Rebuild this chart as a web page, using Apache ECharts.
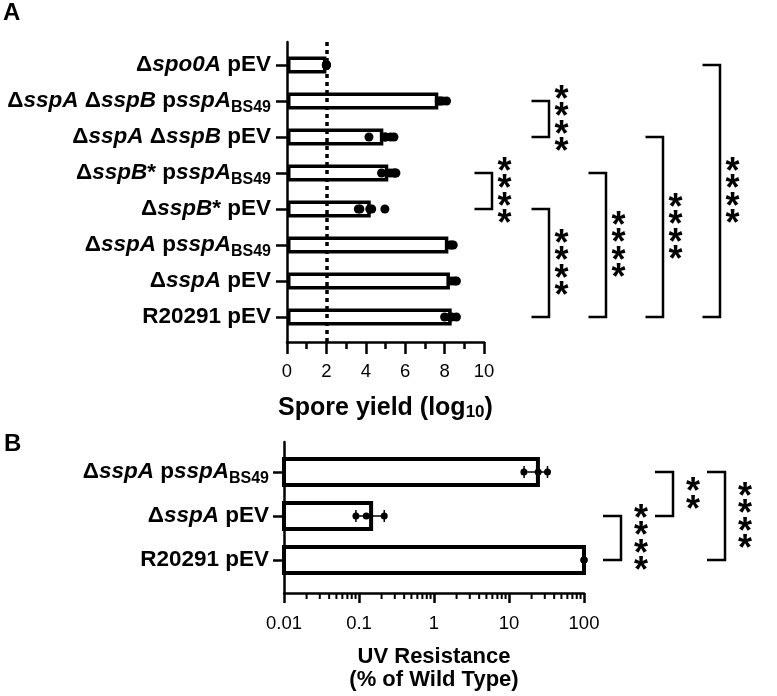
<!DOCTYPE html>
<html><head><meta charset="utf-8">
<script src="https://cdn.jsdelivr.net/npm/echarts@6/dist/echarts.min.js"></script>
<style>html,body{margin:0;padding:0;background:#fff}#c{width:777px;height:696px}</style>
</head><body><div id="c"></div>
<script>
const FONT = "'Liberation Sans', Arial, Helvetica, sans-serif";

// ---------- Panel A: spore yield ----------
const catsA = ['Δspo0A pEV', 'ΔsspA ΔsspB psspA BS49', 'ΔsspA ΔsspB pEV', 'ΔsspB* psspA BS49',
               'ΔsspB* pEV', 'ΔsspA psspA BS49', 'ΔsspA pEV', 'R20291 pEV'];
const labelsA = [
  '{n|Δ}{i|spo0A}{n| pEV}',
  '{n|Δ}{i|sspA}{n| Δ}{i|sspB}{n| p}{i|sspA}{s|BS49}',
  '{n|Δ}{i|sspA}{n| Δ}{i|sspB}{n| pEV}',
  '{n|Δ}{i|sspB}{n|* p}{i|sspA}{s|BS49}',
  '{n|Δ}{i|sspB}{n|* pEV}',
  '{n|Δ}{i|sspA}{n| p}{i|sspA}{s|BS49}',
  '{n|Δ}{i|sspA}{n| pEV}',
  '{n|R20291 pEV}'
];
const meanA = [2.0, 7.68, 4.89, 5.14, 4.25, 8.19, 8.27, 8.36];
const dotsA = [
  [2.0, 2.0, 2.0, 2.0, 2.0],
  [7.73, 7.9, 8.1, 7.78],
  [4.16, 4.97, 5.43, 5.26, 5.0],
  [4.8, 5.48, 5.53, 5.4, 5.23],
  [3.62, 4.2, 4.3, 4.97, 3.7],
  [8.27, 8.44, 8.36],
  [8.36, 8.53, 8.6],
  [8.0, 8.36, 8.6, 8.27]
];
const detectionLimitA = 2;
// significance brackets: [column, fromCategory, toCategory, stars]
const sigA = [[1, 1, 2, 4], [0, 3, 4, 4], [1, 4, 7, 4], [2, 3, 7, 4], [3, 2, 7, 4], [4, 0, 7, 4]];

// ---------- Panel B: UV resistance ----------
const catsB = ['ΔsspA psspA BS49', 'ΔsspA pEV', 'R20291 pEV'];
const labelsB = [
  '{n|Δ}{i|sspA}{n| p}{i|sspA}{s|BS49}',
  '{n|Δ}{i|sspA}{n| pEV}',
  '{n|R20291 pEV}'
];
const meanB = [24.3, 0.145, 100];
const errLowB = [15.9, 0.091, 100];
const errHighB = [32.6, 0.217, 100];
const dotsB = [[15.8, 24.5, 32.6], [0.091, 0.125, 0.217], [100, 100, 100]];
const minB = 0.01, maxB = 100;
const minorTicksB = [0.02, 0.03, 0.04, 0.05, 0.06, 0.07, 0.08, 0.09,
                     0.2, 0.3, 0.4, 0.5, 0.6, 0.7, 0.8, 0.9,
                     2, 3, 4, 5, 6, 7, 8, 9,
                     20, 30, 40, 50, 60, 70, 80, 90];
const sigB = [[0, 1, 2, 4], [1, 0, 1, 2], [2, 0, 2, 4]];

// ---------- styles ----------
const rich = {
  n: {fontFamily: FONT, fontWeight: 'bold', fontSize: 22.5, color: '#000', lineHeight: 26},
  i: {fontFamily: FONT, fontWeight: 'bold', fontStyle: 'italic', fontSize: 22.5, color: '#000', lineHeight: 26},
  s: {fontFamily: FONT, fontWeight: 'bold', fontSize: 16, color: '#000', lineHeight: 26, padding: [13, 0, 0, 0]}
};
const titleRich = {
  b: {fontFamily: FONT, fontWeight: 'bold', fontSize: 25, color: '#000', lineHeight: 30},
  s: {fontFamily: FONT, fontWeight: 'bold', fontSize: 17, color: '#000', lineHeight: 30, padding: [9, 0, 0, 0]}
};
const LW = 2.5;

function bracketRenderer(arm, starDx, starStep, starFont) {
  return function (params, api) {
    const col = api.value(0), a = api.value(1), b = api.value(2), n = api.value(3);
    const p1 = api.coord([col, a]);
    const p2 = api.coord([col, b]);
    const children = [{
      type: 'polyline',
      shape: {points: [[p1[0] - arm, p1[1]], [p1[0], p1[1]], [p2[0], p2[1]], [p2[0] - arm, p2[1]]]},
      style: {stroke: '#000', lineWidth: LW, fill: null}
    }];
    const cy = (p1[1] + p2[1]) / 2;
    for (let k = 0; k < n; k++) {
      const y = cy + (k - (n - 1) / 2) * starStep;
      children.push({
        type: 'text',
        style: {text: '*', x: p1[0] + starDx, y: y + starFont * 0.23, align: 'center', verticalAlign: 'middle',
                fontFamily: FONT, fontWeight: 'bold', fontSize: starFont, fill: '#000'}
      });
    }
    return {type: 'group', children: children};
  };
}

const scatterA = [];
dotsA.forEach((arr, i) => arr.forEach(v => scatterA.push([v, i])));
const scatterB = [];
dotsB.forEach((arr, i) => arr.forEach(v => scatterB.push([v, i])));

const hiddenVal = (min, max) => ({type: 'value', min: min, max: max, show: false});

const option = {
  animation: false,
  backgroundColor: '#fff',
  title: [
    {text: 'A', left: 3, top: 1, padding: 0, textStyle: {fontFamily: FONT, fontWeight: 'bold', fontSize: 24, color: '#000'}},
    {text: 'B', left: 4, top: 432, padding: 0, textStyle: {fontFamily: FONT, fontWeight: 'bold', fontSize: 24, color: '#000'}}
  ],
  grid: [
    {left: 287, right: 293, top: 47, height: 288},   // 0 A data
    {left: 287, right: 293, top: 42, height: 300},   // 1 A frame
    {left: 492, width: 286, top: 47, height: 288},   // 2 A brackets
    {left: 284, right: 193, top: 450, height: 132},  // 3 B data
    {left: 284, right: 193, top: 442, height: 151},  // 4 B frame
    {left: 621, width: 192, top: 450, height: 132}   // 5 B brackets
  ],
  xAxis: [
    Object.assign(hiddenVal(0, 10), {gridIndex: 0}),
    {
      gridIndex: 1, type: 'value', min: 0, max: 10, interval: 2,
      axisLine: {show: true, onZero: false, lineStyle: {color: '#000', width: LW}},
      axisTick: {show: true, length: 12, lineStyle: {color: '#000', width: LW}},
      minorTick: {show: true, splitNumber: 2, length: 7, lineStyle: {color: '#000', width: LW}},
      splitLine: {show: false}, minorSplitLine: {show: false},
      axisLabel: {fontFamily: FONT, fontSize: 18.5, color: '#000', margin: 20},
      name: '{b|Spore yield (log}{s|10}{b|)}', nameLocation: 'middle', nameGap: 51,
      nameTextStyle: {rich: titleRich}
    },
    Object.assign(hiddenVal(0, 5), {gridIndex: 2}),
    {gridIndex: 3, type: 'log', logBase: 10, min: minB, max: maxB, show: false},
    {
      gridIndex: 4, type: 'log', logBase: 10, min: minB, max: maxB,
      axisLine: {show: true, onZero: false, lineStyle: {color: '#000', width: LW}},
      axisTick: {show: true, length: 10, lineStyle: {color: '#000', width: LW}},
      splitLine: {show: false},
      axisLabel: {fontFamily: FONT, fontSize: 18.5, color: '#000', margin: 21},
      name: 'UV Resistance\n(% of Wild Type)', nameLocation: 'middle', nameGap: 52,
      nameTextStyle: {fontFamily: FONT, fontWeight: 'bold', fontSize: 22, color: '#000', lineHeight: 23}
    },
    Object.assign(hiddenVal(0, 3), {gridIndex: 5})
  ],
  yAxis: [
    {
      gridIndex: 0, type: 'category', data: catsA, inverse: true,
      axisLine: {show: false},
      axisTick: {show: true, alignWithLabel: true, length: 11, lineStyle: {color: '#000', width: LW}},
      axisLabel: {margin: 16, formatter: (v, i) => labelsA[i], rich: rich}
    },
    {
      gridIndex: 1, type: 'value', min: 0, max: 1,
      axisLine: {show: true, onZero: false, lineStyle: {color: '#000', width: LW}},
      axisTick: {show: false}, axisLabel: {show: false}, splitLine: {show: false}
    },
    {gridIndex: 2, type: 'category', data: catsA, inverse: true, show: false},
    {
      gridIndex: 3, type: 'category', data: catsB, inverse: true,
      axisLine: {show: false},
      axisTick: {show: true, alignWithLabel: true, length: 11, lineStyle: {color: '#000', width: LW}},
      axisLabel: {margin: 15, formatter: (v, i) => labelsB[i], rich: rich}
    },
    {
      gridIndex: 4, type: 'value', min: 0, max: 1,
      axisLine: {show: true, onZero: false, lineStyle: {color: '#000', width: LW}},
      axisTick: {show: false}, axisLabel: {show: false}, splitLine: {show: false}
    },
    {gridIndex: 5, type: 'category', data: catsB, inverse: true, show: false}
  ],
  series: [
    // Panel A bars
    {
      type: 'bar', xAxisIndex: 0, yAxisIndex: 0, data: meanA, barWidth: 17,
      itemStyle: {color: '#fff', borderColor: '#000', borderWidth: 3.5}, z: 2
    },
    // detection limit line
    {
      type: 'scatter', xAxisIndex: 1, yAxisIndex: 1, data: [], z: 3,
      markLine: {
        silent: true, symbol: ['none', 'none'], label: {show: false},
        lineStyle: {color: '#000', width: 3.5, type: [4, 4]},
        data: [{xAxis: detectionLimitA}]
      }
    },
    // Panel A dots
    {
      type: 'scatter', xAxisIndex: 0, yAxisIndex: 0, data: scatterA, symbolSize: 9,
      itemStyle: {color: '#000', opacity: 1}, z: 5
    },
    // Panel A brackets
    {
      type: 'custom', xAxisIndex: 2, yAxisIndex: 2, data: sigA, encode: {x: 0, y: 1},
      renderItem: bracketRenderer(17.5, 12.5, 17.5, 36), z: 5
    },
    // Panel B bars (start at axis minimum)
    {
      type: 'custom', xAxisIndex: 3, yAxisIndex: 3, data: meanB.map((v, i) => [v, i]), encode: {x: 0, y: 1},
      renderItem: function (params, api) {
        const i = api.value(1);
        const s = api.coord([minB, i]);
        const e = api.coord([api.value(0), i]);
        const h = 26;
        return {type: 'rect', shape: {x: s[0], y: s[1] - h / 2, width: e[0] - s[0], height: h},
                style: {fill: '#fff', stroke: '#000', lineWidth: 4}};
      }, z: 2
    },
    // Panel B error bars
    {
      type: 'custom', xAxisIndex: 3, yAxisIndex: 3,
      data: errLowB.map((v, i) => [v, errHighB[i], i]), encode: {x: [0, 1], y: 2},
      renderItem: function (params, api) {
        const lo = api.value(0), hi = api.value(1), i = api.value(2);
        if (lo === hi) return null;
        const a = api.coord([lo, i]), b = api.coord([hi, i]);
        const c = 6;
        const st = {stroke: '#000', lineWidth: 1.5};
        return {type: 'group', children: [
          {type: 'line', shape: {x1: a[0], y1: a[1], x2: b[0], y2: b[1]}, style: st},
          {type: 'line', shape: {x1: a[0], y1: a[1] - c, x2: a[0], y2: a[1] + c}, style: st},
          {type: 'line', shape: {x1: b[0], y1: b[1] - c, x2: b[0], y2: b[1] + c}, style: st}
        ]};
      }, z: 4
    },
    // Panel B dots
    {
      type: 'scatter', xAxisIndex: 3, yAxisIndex: 3, data: scatterB, symbolSize: 7,
      itemStyle: {color: '#000', opacity: 1}, z: 5
    },
    // Panel B minor log ticks
    {
      type: 'custom', xAxisIndex: 4, yAxisIndex: 4, data: minorTicksB.map(v => [v, 0]), encode: {x: 0, y: 1},
      renderItem: function (params, api) {
        const p = api.coord([api.value(0), 0]);
        return {type: 'line', shape: {x1: p[0], y1: p[1], x2: p[0], y2: p[1] + 6},
                style: {stroke: '#000', lineWidth: 2}};
      }, z: 3
    },
    // Panel B brackets
    {
      type: 'custom', xAxisIndex: 5, yAxisIndex: 5, data: sigB, encode: {x: 0, y: 1},
      renderItem: bracketRenderer(18, 20, 17.5, 36), z: 5
    }
  ]
};

const chart = echarts.init(document.getElementById('c'), null, {renderer: 'canvas'});
chart.setOption(option);
</script>
</body></html>
